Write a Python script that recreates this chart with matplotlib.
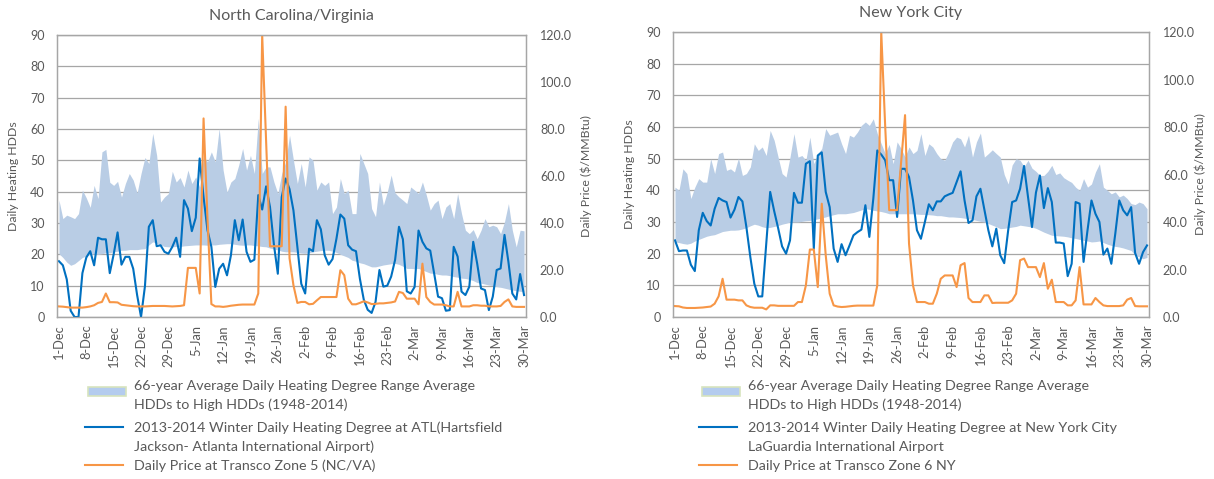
import numpy as np
import matplotlib
matplotlib.use("Agg")
import matplotlib.pyplot as plt
from matplotlib.patches import Rectangle
from matplotlib.lines import Line2D
from matplotlib.ticker import FormatStrFormatter

plt.rcParams['font.family'] = ['Lato', 'DejaVu Sans']

# x axis labels, one every 7 days from 1-Dec to 30-Mar (120 days)
tick_labels = ['1-Dec', '8-Dec', '15-Dec', '22-Dec', '29-Dec', '5-Jan', '12-Jan',
               '19-Jan', '26-Jan', '2-Feb', '9-Feb', '16-Feb', '23-Feb', '2-Mar',
               '9-Mar', '16-Mar', '23-Mar', '30-Mar']

# North Carolina / Virginia
nc_low = [20.2, 19.0, 17.5, 16.5, 17.0, 18.0, 19.0, 19.5, 20.0, 20.2,
          20.0, 20.2, 20.5, 20.5, 20.8, 21.0, 21.3, 21.3, 21.5, 21.5,
          21.5, 21.7, 21.8, 23.0, 24.0, 23.5, 23.0, 22.5, 22.4, 22.4,
          22.5, 22.5, 22.7, 22.8, 22.9, 23.0, 23.0, 23.0, 22.9, 23.0,
          23.0, 23.2, 23.3, 23.4, 23.4, 23.2, 23.0, 22.9, 23.0, 23.0,
          22.8, 22.7, 22.5, 22.4, 22.0, 21.7, 21.4, 21.0, 20.8, 20.8,
          20.8, 20.6, 20.4, 20.3, 20.5, 20.8, 21.0, 21.2, 21.3, 21.3,
          21.0, 20.6, 20.0, 19.5, 19.0, 18.1, 17.8, 17.3, 17.0, 16.5,
          16.0, 16.0, 16.3, 16.6, 16.8, 17.0, 17.1, 16.8, 16.2, 15.5,
          15.5, 15.4, 15.5, 15.0, 14.5, 14.0, 13.9, 13.6, 13.4, 13.4,
          13.2, 12.9, 12.7, 12.4, 12.3, 12.0, 11.6, 11.0, 10.8, 10.5,
          10.2, 10.0, 9.7, 9.5, 9.2, 8.9, 8.6, 8.4, 8.2, 8.1]
nc_high = [37.3, 31.4, 32.5, 32.0, 31.4, 33.0, 40.5, 38.0, 35.0, 42.0,
           37.8, 52.7, 53.5, 43.0, 42.0, 43.3, 38.3, 42.6, 45.8, 43.7,
           39.6, 45.8, 50.9, 49.0, 58.6, 51.6, 36.7, 38.3, 39.4, 46.5,
           43.1, 44.5, 41.5, 46.9, 42.6, 44.7, 41.5, 51.3, 49.5, 52.7,
           49.5, 60.2, 46.9, 39.9, 43.1, 44.2, 48.5, 53.8, 46.9, 51.6,
           45.8, 63.4, 45.8, 47.9, 47.9, 43.1, 39.4, 45.8, 49.5, 58.0,
           50.0, 42.6, 49.0, 41.5, 51.1, 50.0, 40.5, 43.1, 42.0, 43.1,
           33.0, 35.1, 44.2, 39.4, 40.5, 33.0, 33.0, 52.2, 49.0, 45.8,
           34.6, 32.0, 43.1, 35.7, 39.9, 45.3, 39.6, 38.3, 37.3, 36.2,
           41.5, 40.5, 39.4, 43.1, 38.9, 34.1, 36.2, 37.3, 31.4, 35.1,
           36.2, 31.4, 39.4, 33.0, 27.7, 26.6, 27.9, 25.0, 27.7, 31.4,
           28.8, 29.3, 28.8, 26.6, 30.4, 36.2, 27.7, 22.4, 27.7, 27.5]
nc_hdd = [17.8, 16.5, 12.0, 2.0, 0.0, 0.0, 14.0, 19.0, 21.0, 16.5,
          25.3, 24.8, 24.8, 14.0, 20.0, 27.0, 16.7, 19.2, 19.2, 15.4,
          7.0, 0.0, 9.8, 28.8, 30.9, 22.6, 22.9, 20.8, 20.2, 22.4,
          25.3, 19.2, 37.3, 34.6, 27.4, 31.7, 50.6, 38.3, 27.7, 22.4,
          9.6, 15.4, 17.0, 13.3, 19.7, 30.9, 24.5, 31.1, 20.8, 17.6,
          18.3, 38.9, 34.3, 41.7, 35.1, 23.1, 13.8, 38.3, 44.2, 40.8,
          34.0, 22.4, 10.6, 7.5, 21.8, 21.0, 30.9, 28.0, 19.7, 16.7,
          18.5, 25.0, 32.7, 31.4, 22.9, 21.5, 21.0, 12.2, 5.5, 2.3,
          1.3, 4.8, 15.0, 9.7, 10.0, 12.9, 18.2, 28.8, 24.8, 8.2,
          7.5, 9.6, 27.6, 24.0, 21.9, 21.2, 13.9, 6.5, 6.0, 2.0,
          2.2, 22.4, 19.3, 8.1, 7.0, 9.7, 24.0, 17.1, 9.1, 8.6,
          2.2, 6.5, 15.0, 15.5, 26.2, 17.6, 7.5, 5.6, 13.7, 7.0]
nc_price = [4.5, 4.4, 4.2, 4.0, 4.0, 4.0, 4.0, 4.2, 4.5, 5.0,
            6.0, 6.4, 10.0, 6.3, 6.3, 6.2, 5.2, 5.0, 4.8, 4.6,
            4.5, 4.5, 4.5, 4.6, 4.7, 4.7, 4.7, 4.7, 4.6, 4.5,
            4.6, 4.7, 5.0, 20.9, 20.9, 20.9, 10.0, 84.5, 42.0, 5.5,
            4.5, 4.5, 4.3, 4.5, 4.8, 5.0, 5.2, 5.3, 5.3, 5.3,
            5.3, 10.0, 120.0, 75.0, 30.1, 30.1, 30.1, 30.1, 89.5, 25.0,
            13.5, 6.0, 6.4, 6.4, 5.4, 5.6, 7.1, 8.5, 8.5, 8.5,
            8.5, 8.5, 19.9, 17.8, 7.8, 5.4, 5.4, 6.0, 6.7, 6.2,
            5.5, 5.6, 5.8, 5.8, 6.0, 6.2, 6.6, 10.7, 10.2, 7.8,
            7.8, 7.8, 5.4, 22.7, 8.5, 6.4, 5.3, 5.3, 5.3, 5.0,
            4.5, 4.5, 10.7, 4.5, 4.5, 4.5, 5.0, 5.0, 4.8, 4.8,
            4.5, 4.5, 4.5, 4.7, 6.4, 7.5, 4.5, 4.3, 4.3, 4.3]

# New York City
ny_low = [23.7, 23.5, 23.2, 23.0, 23.3, 24.0, 24.5, 25.0, 25.5, 25.8,
          26.0, 26.5, 27.0, 27.2, 27.4, 27.4, 27.5, 27.8, 28.2, 28.8,
          29.3, 29.0, 28.5, 28.2, 28.3, 28.6, 28.9, 29.3, 29.6, 30.0,
          30.0, 30.0, 30.2, 30.4, 30.5, 30.7, 31.0, 31.3, 31.6, 32.0,
          32.3, 32.6, 32.6, 32.6, 32.8, 33.0, 33.4, 33.8, 34.2, 34.0,
          33.7, 33.5, 33.3, 33.0, 32.6, 32.6, 32.6, 32.6, 32.6, 32.6,
          32.6, 32.5, 32.4, 32.4, 32.3, 32.2, 32.0, 32.0, 31.8, 31.6,
          31.6, 31.5, 31.4, 31.2, 31.0, 30.8, 30.5, 30.2, 30.0, 29.5,
          29.0, 28.5, 27.9, 28.0, 28.2, 28.4, 28.6, 29.0, 28.8, 28.6,
          28.4, 28.0, 27.4, 26.8, 26.3, 25.8, 25.7, 25.6, 25.5, 25.3,
          25.0, 24.8, 24.5, 24.2, 24.0, 23.7, 23.8, 24.0, 23.5, 23.0,
          22.6, 22.3, 22.1, 21.8, 21.4, 21.0, 19.5, 19.0, 18.4, 18.8]
ny_high = [41.0, 40.0, 46.8, 45.3, 37.4, 41.0, 43.7, 42.6, 42.6, 50.0,
           45.3, 51.6, 52.1, 46.3, 46.8, 45.8, 50.2, 44.7, 45.3, 47.4,
           54.7, 52.6, 53.7, 51.0, 58.9, 55.8, 50.5, 45.3, 44.2, 50.5,
           57.9, 50.5, 51.0, 49.5, 56.8, 48.4, 51.6, 53.2, 59.5, 57.4,
           57.9, 58.4, 54.7, 51.6, 57.4, 56.8, 58.4, 60.5, 61.6, 60.5,
           62.6, 57.9, 54.7, 51.6, 54.5, 48.4, 55.3, 53.2, 50.5, 53.7,
           51.6, 52.6, 57.9, 51.0, 54.7, 53.7, 51.6, 50.0, 49.5, 52.0,
           55.3, 56.8, 56.3, 53.7, 57.4, 50.5, 55.3, 58.1, 50.5, 51.6,
           52.8, 51.6, 50.5, 45.0, 42.0, 48.0, 50.0, 49.5, 47.5, 49.5,
           47.0, 46.0, 44.7, 44.7, 46.0, 47.9, 45.0, 45.5, 44.0, 43.2,
           42.5, 41.0, 40.0, 43.7, 41.0, 42.0, 45.8, 48.4, 41.0, 40.0,
           38.9, 39.5, 37.9, 38.5, 37.4, 35.8, 35.5, 36.3, 35.8, 34.2]
ny_hdd = [24.2, 20.8, 21.0, 21.0, 16.5, 14.5, 27.4, 32.9, 30.3, 28.9,
          34.2, 37.6, 36.8, 36.3, 31.4, 33.9, 37.9, 36.5, 28.4, 18.9,
          10.5, 6.5, 6.5, 23.0, 39.5, 33.5, 28.1, 22.3, 20.0, 24.2,
          39.2, 36.1, 36.1, 48.4, 49.2, 21.6, 51.0, 52.0, 39.5, 34.7,
          21.6, 17.4, 23.0, 19.5, 22.6, 25.8, 26.8, 27.6, 35.3, 25.3,
          37.4, 52.6, 51.3, 49.5, 43.2, 43.2, 31.6, 46.8, 46.8, 44.2,
          36.8, 27.4, 24.7, 30.0, 35.6, 33.7, 36.5, 36.5, 38.1, 38.7,
          39.2, 42.6, 46.0, 36.8, 29.7, 30.5, 38.1, 40.5, 33.9, 27.4,
          22.3, 27.9, 19.5, 17.0, 27.4, 36.3, 36.8, 40.5, 47.7, 37.9,
          28.4, 39.3, 44.7, 34.4, 40.7, 36.3, 23.5, 23.5, 23.2, 12.9,
          16.8, 36.3, 35.8, 17.4, 27.4, 36.8, 32.6, 30.0, 19.7, 21.6,
          16.8, 26.3, 36.8, 33.7, 32.1, 34.7, 20.2, 16.8, 20.5, 22.6]
ny_price = [4.6, 4.5, 4.0, 3.8, 3.8, 3.8, 3.9, 4.0, 4.2, 4.4,
            5.6, 8.7, 16.1, 7.3, 7.3, 7.3, 7.0, 7.0, 4.9, 4.2,
            3.9, 3.9, 3.9, 3.2, 4.9, 4.9, 4.7, 4.7, 4.7, 4.7,
            4.7, 6.3, 6.3, 13.3, 28.4, 28.4, 12.6, 47.7, 26.0, 9.8,
            4.9, 4.4, 4.2, 4.3, 4.5, 4.7, 4.8, 4.8, 4.8, 4.8,
            4.8, 13.3, 120.0, 80.0, 45.0, 45.0, 45.0, 65.0, 85.0, 30.9,
            13.3, 6.3, 6.3, 6.3, 5.6, 5.6, 9.8, 16.1, 17.5, 17.5,
            17.5, 12.6, 21.8, 22.7, 8.0, 6.3, 6.3, 6.3, 9.1, 9.1,
            5.9, 6.0, 6.0, 6.0, 6.0, 7.0, 9.8, 23.9, 24.6, 21.0,
            21.0, 21.0, 16.8, 22.7, 11.9, 15.7, 6.3, 6.3, 6.3, 4.9,
            4.9, 7.0, 21.0, 5.3, 5.3, 5.3, 8.0, 6.3, 4.9, 4.6,
            4.6, 4.6, 4.6, 4.9, 7.3, 8.0, 4.6, 4.5, 4.5, 4.5]

BAND = '#B9CDE5'
BLUE = '#0070C0'
ORANGE = '#F79646'
GRID = '#A6A6A6'
TEXT = '#595959'

W, H = 1214, 479
days = np.arange(len(nc_hdd))
tick_pos = days[::7]


def fx(px):
    return px / W


def fy(py):
    return 1 - py / H


def draw_panel(rect, low, high, hdd, price, title, rlabel_x):
    ax = fig.add_axes(rect)
    ax.fill_between(days, low, high, color=BAND, lw=0, zorder=1)
    ax.plot(days, hdd, color=BLUE, lw=1.5, zorder=3)
    ax.set_xlim(-0.5, 119.5)
    ax.set_ylim(0, 90)
    ax.set_yticks(range(0, 91, 10))
    ax.yaxis.grid(True, color=GRID, lw=0.9)
    ax.set_axisbelow(True)
    ax.set_xticks(tick_pos)
    ax.set_xticklabels(tick_labels, rotation=90)
    ax.tick_params(length=0, colors=TEXT)
    ax.tick_params(axis='y', pad=9, labelsize=9)
    ax.tick_params(axis='x', pad=5.5, labelsize=9.3)
    ax.set_ylabel('Daily Heating HDDs', fontsize=8.8, color=TEXT, labelpad=8)
    ax.set_title(title, fontsize=11.5, color=TEXT, pad=11)

    axr = ax.twinx()
    axr.plot(days, price, color=ORANGE, lw=1.5)
    axr.set_ylim(0, 120)
    axr.set_yticks(range(0, 121, 20))
    axr.yaxis.set_major_formatter(FormatStrFormatter('%.1f'))
    axr.tick_params(length=0, labelsize=9, colors=TEXT, pad=10)
    axr.set_ylabel('Daily Price ($/MMBtu)', fontsize=8.8, color=TEXT)
    axr.yaxis.set_label_coords(rlabel_x, 0.5)
    for a in (ax, axr):
        for s in a.spines.values():
            s.set_color(GRID)
            s.set_linewidth(0.9)


def draw_legend(x0, lines):
    # x0: left pixel of the legend keys
    fig.add_artist(Rectangle((fx(x0 + 3), fy(396)), fx(38), 9 / H,
                             transform=fig.transFigure, facecolor='#B4CCEE',
                             edgecolor='#D7E4BD', lw=1.2))
    fig.add_artist(Line2D([fx(x0), fx(x0 + 38)], [fy(427), fy(427)],
                          transform=fig.transFigure, color=BLUE, lw=1.5))
    fig.add_artist(Line2D([fx(x0), fx(x0 + 38)], [fy(465), fy(465)],
                          transform=fig.transFigure, color=ORANGE, lw=1.5))
    for ypx, s in zip([386, 405, 428, 447, 466], lines):
        fig.text(fx(x0 + 49.5), fy(ypx), s, fontsize=10.3, color=TEXT,
                 ha='left', va='center')


fig = plt.figure(figsize=(W / 100, H / 100), dpi=100)

draw_panel([fx(57), fy(317), fx(469), 282 / H],
           nc_low, nc_high, nc_hdd, nc_price, 'North Carolina/Virginia',
           (580 - 57) / 469)
draw_legend(85, ['66-year Average Daily Heating Degree Range Average',
                 'HDDs to High HDDs (1948-2014)',
                 '2013-2014 Winter Daily Heating Degree at ATL(Hartsfield',
                 'Jackson- Atlanta International Airport)',
                 'Daily Price at Transco Zone 5 (NC/VA)'])

draw_panel([fx(673), fy(317), fx(476), 285 / H],
           ny_low, ny_high, ny_hdd, ny_price, 'New York City',
           (1195 - 673) / 476)
draw_legend(699, ['66-year Average Daily Heating Degree Range Average',
                  'HDDs to High HDDs (1948-2014)',
                  '2013-2014 Winter Daily Heating Degree at New York City',
                  'LaGuardia International Airport',
                  'Daily Price at Transco Zone 6 NY'])

fig.savefig('out.png', dpi=100)
